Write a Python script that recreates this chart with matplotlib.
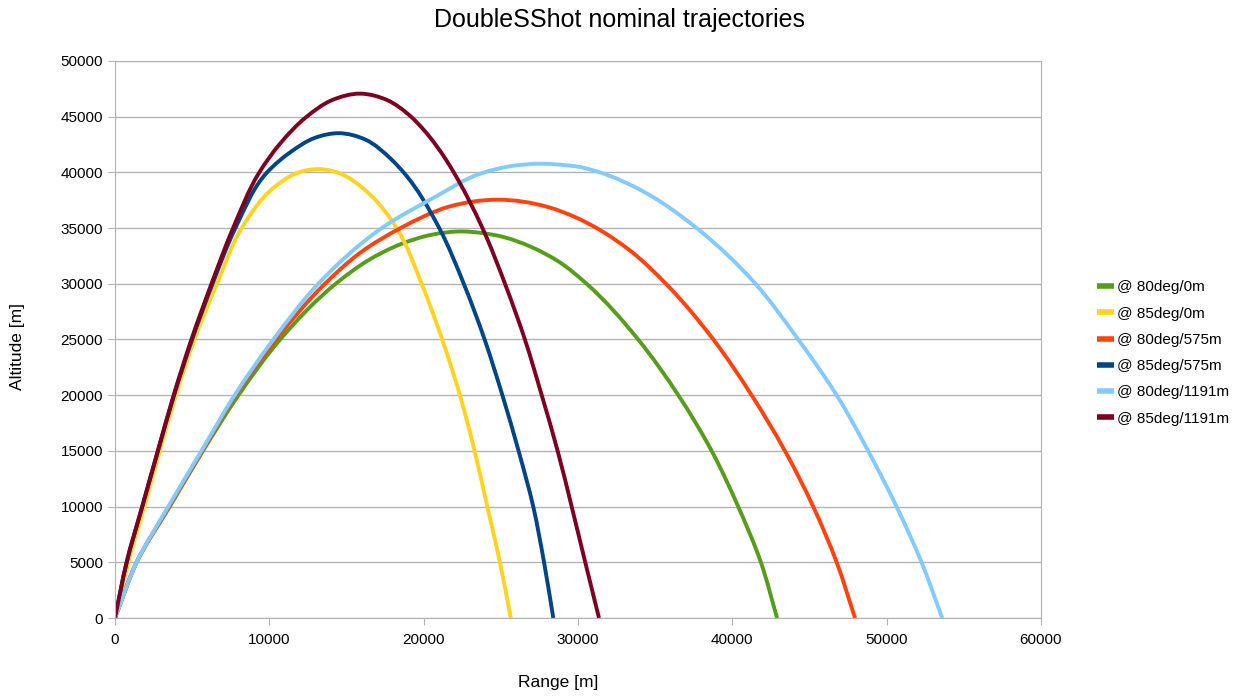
import matplotlib
matplotlib.use("Agg")
import numpy as np
import matplotlib.pyplot as plt
from matplotlib.path import Path
from matplotlib.patches import PathPatch
from matplotlib.lines import Line2D

plt.rcParams['font.family'] = ['Liberation Sans', 'DejaVu Sans']

# trajectories: range [m], altitude [m]
x_80_0 = [0, 1400, 3550, 5700, 8000, 10700, 14300, 16400, 18500, 20500, 22500, 23650,
          25200, 27000, 28830, 30560, 33900, 36500, 38660, 40380, 41850, 42900]
y_80_0 = [0, 5000, 10000, 15000, 20000, 25000, 30000, 32100, 33550, 34400, 34700, 34580,
          34190, 33290, 31920, 30000, 25000, 20000, 15000, 10000, 5000, 0]

x_85_0 = [0, 864, 1900, 2900, 3950, 5150, 6600, 8206, 10260, 11900, 12500, 13176, 14000,
          14600, 16500, 18250, 19870, 21200, 22350, 23300, 24122, 24944, 25645]
y_85_0 = [0, 5000, 10000, 15000, 20000, 25000, 30000, 35000, 38600, 40000, 40210, 40300, 40160,
          39890, 38050, 35000, 30000, 25000, 20000, 15000, 10000, 5000, 0]

x_80_575 = [0, 1400, 3500, 5650, 7800, 10430, 13600, 15900, 18500, 21700, 24800, 28060,
            30050, 31210, 33450, 35700, 38770, 41250, 43410, 45240, 46760, 47950]
y_80_575 = [0, 5000, 10000, 15000, 20000, 25000, 30000, 32800, 35000, 36950, 37550, 36890,
            35840, 35000, 32900, 30000, 25000, 20000, 15000, 10000, 5000, 0]

x_85_575 = [0, 760, 1770, 2790, 3830, 5000, 6320, 7800, 9850, 11350, 12950, 14550, 16200,
            17950, 18700, 21010, 22600, 23950, 25100, 26150, 27100, 27800, 28400]
y_85_575 = [0, 5000, 10000, 15000, 20000, 25000, 30000, 35000, 40000, 41800, 43100, 43520,
            42960, 41110, 40000, 35000, 30000, 25000, 20000, 15000, 10000, 5000, 0]

x_80_1191 = [0, 1400, 3450, 5600, 7750, 10260, 13170, 17280, 20620, 23650, 25600, 27640,
             28830, 30130, 31420, 34230, 37690, 41500, 44270, 46760, 48800, 50640, 52260,
             53600]
y_80_1191 = [0, 5000, 10000, 15000, 20000, 25000, 30000, 35000, 37700, 39880, 40550, 40780,
             40690, 40480, 40000, 38290, 35000, 30000, 25000, 20000, 15000, 10000, 5000, 0]

x_85_1191 = [0, 750, 1760, 2770, 3800, 4950, 6250, 7650, 9350, 10700, 12420, 14000, 15900,
             17620, 19180, 20010, 21460, 21950, 23810, 25270, 26560, 27650, 28680, 29590,
             30470, 31360]
y_85_1191 = [0, 5000, 10000, 15000, 20000, 25000, 30000, 35000, 40000, 42590, 45000, 46450,
             47070, 46500, 45000, 43810, 41110, 40000, 35000, 30000, 25000, 20000, 15000,
             10000, 5000, 0]

labels = ["@ 80deg/0m", "@ 85deg/0m", "@ 80deg/575m", "@ 85deg/575m",
          "@ 80deg/1191m", "@ 85deg/1191m"]
colors = ["#579d1c", "#ffd320", "#ff420e", "#004586", "#83caff", "#7e0021"]
xs = [x_80_0, x_85_0, x_80_575, x_85_575, x_80_1191, x_85_1191]
ys = [y_80_0, y_85_0, y_80_575, y_85_575, y_80_1191, y_85_1191]

# pixel scale of the plot area, used only to shape the smooth line
SX, SY = 926 / 60000, 557 / 50000


def smooth_path(x, y):
    # smooth bezier through the read points (like the spreadsheet's "smooth" line type)
    p = np.column_stack([np.asarray(x) * SX, np.asarray(y) * SY]).astype(float)
    d = np.linalg.norm(np.diff(p, axis=0), axis=1)
    u = np.diff(p, axis=0) / d[:, None]
    m = np.empty_like(p)
    m[0], m[-1] = u[0], u[-1]
    for i in range(1, len(p) - 1):
        m[i] = (u[i - 1] * d[i] + u[i] * d[i - 1]) / (d[i - 1] + d[i])
    verts = [p[0]]
    codes = [Path.MOVETO]
    for i in range(len(p) - 1):
        verts += [p[i] + m[i] * d[i] / 3, p[i + 1] - m[i + 1] * d[i] / 3, p[i + 1]]
        codes += [Path.CURVE4] * 3
    verts = np.array(verts) / [SX, SY]
    return Path(verts, codes)


fig = plt.figure(figsize=(12.4, 6.97), dpi=100)
ax = fig.add_axes([115 / 1240, 1 - 618 / 697, (1041 - 115) / 1240, (618 - 61) / 697])

handles = []
for x, y, c, lab in zip(xs, ys, colors, labels):
    ax.add_patch(PathPatch(smooth_path(x, y), fill=False, edgecolor=c, lw=2.8,
                           capstyle='butt', joinstyle='round'))
    handles.append(Line2D([], [], color=c, lw=4, label=lab, solid_capstyle='butt'))

ax.set_xlim(0, 60000)
ax.set_ylim(0, 50000)
ax.set_xticks(range(0, 60001, 10000))
ax.set_yticks(range(0, 50001, 5000))
ax.grid(axis='y', color='#b3b3b3', lw=1)
ax.set_axisbelow(True)
for s in ax.spines.values():
    s.set_color('#b3b3b3')
ax.tick_params(colors='#b3b3b3', labelcolor='black', labelsize=11, length=5)
ax.tick_params(axis='x', pad=6)

fig.text(0.5, 1 - 20 / 697, "DoubleSShot nominal trajectories", ha='center', va='center',
         fontsize=18)
fig.text(558 / 1240, 1 - 683 / 697, "Range [m]", ha='center', va='center', fontsize=12.5)
fig.text(18 / 1240, 1 - 347 / 697, "Altitude [m]", ha='center', va='center',
         rotation=90, fontsize=12.5)

ax.legend(handles=handles, loc='center left', bbox_to_anchor=(1083 / 1240, 1 - 353 / 697),
          bbox_transform=fig.transFigure, frameon=False, fontsize=11,
          handlelength=1.1, handletextpad=0.25, labelspacing=0.8)

fig.savefig("out.png", dpi=100)
